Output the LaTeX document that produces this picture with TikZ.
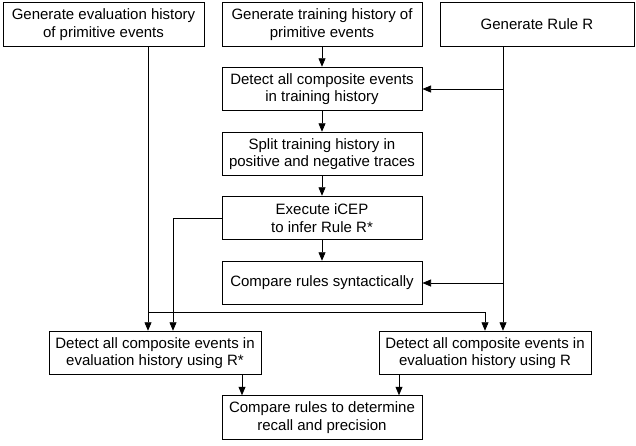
\documentclass[tikz,border=0pt]{standalone}
\usepackage{fontspec}
\setmainfont{Liberation Sans}
\usetikzlibrary{arrows.meta}
\begin{document}
\begin{tikzpicture}[x=1pt,y=-1pt,
  box/.style={draw, line width=1pt, align=center, inner sep=0pt, minimum height=43.5pt, font=\fontsize{15}{17.5}\selectfont},
  conn/.style={line width=0.75pt, -{Triangle[length=8.5pt,width=7pt]}},
  ln/.style={line width=0.75pt}]
\useasboundingbox (0,0) rectangle (636,445);
\node[box, minimum width=201pt] (b1) at (103.5,24.5) {Generate evaluation history\\of primitive events};
\node[box, minimum width=200pt] (b2) at (322,24.5) {Generate training history of\\primitive events};
\node[box, minimum width=194pt] (b3) at (537,24.5) {Generate Rule R};
\node[box, minimum width=200pt] (b4) at (322,89) {Detect all composite events\\in training history};
\node[box, minimum width=200pt] (b5) at (322,154) {Split training history in\\positive and negative traces};
\node[box, minimum width=200pt] (b6) at (322,218) {Execute iCEP\\to infer Rule R*};
\node[box, minimum width=200pt] (b7) at (322,283) {Compare rules syntactically};
\node[box, minimum width=212pt] (b8) at (155,353) {Detect all composite events in\\evaluation history using R*};
\node[box, minimum width=212pt] (b9) at (485,353) {Detect all composite events in\\evaluation history using R};
\node[box, minimum width=200pt] (b10) at (322,417.5) {Compare rules to determine\\recall and precision};
\coordinate (eL) at (148,0);
\coordinate (rR) at (503,0);
\coordinate (xL) at (173,0);
\coordinate (hY) at (0,312);
\coordinate (dL) at (242,0);
\coordinate (dR) at (399,0);
\draw[conn] (b2) -- (b4);
\draw[conn] (b4) -- (b5);
\draw[conn] (b5) -- (b6);
\draw[conn] (b6) -- (b7);
\draw[conn] (b1.south -| eL) -- (b8.north -| eL);
\draw[conn] (b3.south -| rR) -- (b9.north -| rR);
\draw[conn] (rR |- b4.east) -- (b4.east);
\draw[conn] (rR |- b7.east) -- (b7.east);
\draw[conn] (b6.west) -| (b8.north -| xL);
\draw[conn] (eL |- hY) -| (b9.north);
\draw[conn] (b8.south -| dL) -- (b10.north -| dL);
\draw[conn] (b9.south -| dR) -- (b10.north -| dR);
\end{tikzpicture}
\end{document}
